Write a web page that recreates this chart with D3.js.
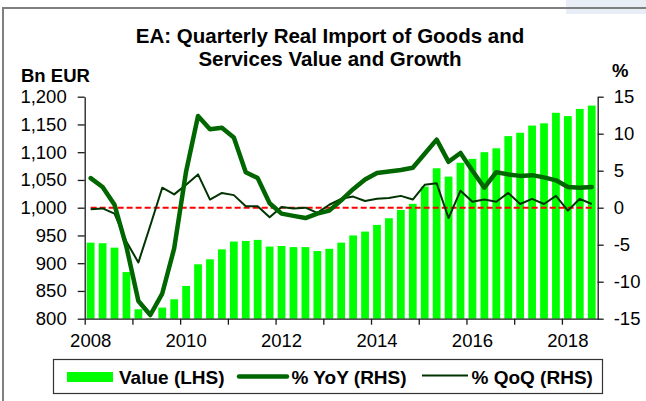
<!DOCTYPE html>
<html>
<head>
<meta charset="utf-8">
<script src="https://cdn.jsdelivr.net/npm/d3@7"></script>
<style>
  body { margin: 0; background: #fff; }
  svg text { font-family: "Liberation Sans", Arial, sans-serif; fill: #000; }
</style>
</head>
<body>
<script>
  let width = 646;
  let height = 401;

  // 2008Q1 .. 2018Q3
  const quarters = [
    "2008Q1","2008Q2","2008Q3","2008Q4","2009Q1","2009Q2","2009Q3","2009Q4",
    "2010Q1","2010Q2","2010Q3","2010Q4","2011Q1","2011Q2","2011Q3","2011Q4",
    "2012Q1","2012Q2","2012Q3","2012Q4","2013Q1","2013Q2","2013Q3","2013Q4",
    "2014Q1","2014Q2","2014Q3","2014Q4","2015Q1","2015Q2","2015Q3","2015Q4",
    "2016Q1","2016Q2","2016Q3","2016Q4","2017Q1","2017Q2","2017Q3","2017Q4",
    "2018Q1","2018Q2","2018Q3"
  ];
  const value = [937,936,928,884,817,801,820,835,859,898,907,925,939,940,942,930,
    931,929,929,922,926,937,950,957,969,981,996,1007,1038,1071,1056,1081,
    1088,1100,1107,1129,1135,1148,1152,1171,1165,1178,1184];
  const yoy = [4.0,2.8,0.4,-5.3,-12.6,-14.5,-11.6,-5.5,4.9,12.4,10.6,10.8,9.5,4.8,4.0,0.6,
    -0.8,-1.1,-1.4,-0.8,-0.4,1.0,2.5,3.8,4.7,4.9,5.1,5.4,7.3,9.2,6.2,7.4,
    5.0,2.7,4.8,4.5,4.3,4.4,4.1,3.7,2.8,2.7,2.8];
  const qoq = [-0.2,-0.1,-0.8,-4.6,-7.4,-2.4,2.7,1.8,3.1,4.5,1.1,2.0,1.7,0.2,0.2,-1.3,
    0.1,-0.1,0.0,-0.7,0.4,1.2,1.5,0.9,1.2,1.3,1.6,1.1,3.1,3.3,-1.4,2.3,
    0.8,1.1,0.8,2.0,0.5,1.2,0.5,1.6,-0.4,1.2,0.5];
  const yearLabels = ["2008Q1","2010Q1","2012Q1","2014Q1","2016Q1","2018Q1"];
  const yearTicks = [0,4,8,12,16,20,24,28,32,36,40];
  const leftTicks = [800,850,900,950,1000,1050,1100,1150,1200];
  const rightTicks = [-15,-10,-5,0,5,10,15];

  let pLeft = 84.7, pRight = 597.7, pTop = 96.7, pBottom = 318.7;

  let x = d3.scaleBand(quarters, [pLeft, pRight]).paddingInner(0.35).paddingOuter(0.175);
  let xi = d3.scaleLinear([0, quarters.length], [pLeft, pRight]);
  let yL = d3.scaleLinear([800, 1200], [pBottom, pTop]);
  let yR = d3.scaleLinear([-15, 15], [pBottom, pTop]);
  let cx = q => x(q) + x.bandwidth()/2;

  let svg = d3.select("body").append("svg")
    .attr("width", width).attr("height", height);

  // frame
  svg.append("rect").attr("x", 566).attr("y", 0).attr("width", 80).attr("height", 14).attr("fill", "#e9eef6");
  svg.append("path").attr("d", "M3,401V8H646").attr("fill", "none").attr("stroke", "#7f7f7f").attr("stroke-width", 2);

  // title
  svg.append("text").attr("x", 330).attr("y", 43).attr("text-anchor", "middle")
    .style("font-size", "20.5px").style("font-weight", "bold")
    .text("EA: Quarterly Real Import of Goods and");
  svg.append("text").attr("x", 330).attr("y", 66).attr("text-anchor", "middle")
    .style("font-size", "20.5px").style("font-weight", "bold")
    .text("Services Value and Growth");
  svg.append("text").attr("x", 21).attr("y", 82)
    .style("font-size", "18.5px").style("font-weight", "bold").text("Bn EUR");
  svg.append("text").attr("x", 612).attr("y", 77)
    .style("font-size", "18.5px").style("font-weight", "bold").text("%");

  // bars
  svg.append("g").selectAll("rect")
    .data(quarters)
    .enter()
    .append("rect")
    .attr("fill", "#00ff00")
    .attr("x", d => x(d))
    .attr("width", x.bandwidth())
    .attr("y", (d,i) => yL(value[i]))
    .attr("height", (d,i) => pBottom - yL(value[i]));

  // zero line
  svg.append("line")
    .attr("x1", cx(quarters[0])).attr("x2", cx(quarters[quarters.length-1]))
    .attr("y1", yR(0)).attr("y2", yR(0))
    .attr("stroke", "#ff0000").attr("stroke-width", 2).attr("stroke-dasharray", "6,3");

  let line = d3.line().x((d,i) => cx(quarters[i])).y(d => yR(d));
  svg.append("path").attr("d", line(qoq)).attr("fill", "none")
    .attr("stroke", "#003300").attr("stroke-width", 2).attr("stroke-linejoin", "round");
  svg.append("path").attr("d", line(yoy)).attr("fill", "none")
    .attr("stroke", "#006600").attr("stroke-width", 4.5)
    .attr("stroke-linejoin", "round").attr("stroke-linecap", "round");

  // axes
  let gl = svg.append("g").attr("transform", "translate(" + pLeft + ",0)")
    .call(d3.axisLeft(yL).tickValues(leftTicks).tickFormat(d3.format(",")).tickSize(7).tickPadding(11).tickSizeOuter(0));
  let gr = svg.append("g").attr("transform", "translate(" + pRight + ",0)")
    .call(d3.axisRight(yR).tickValues(rightTicks).tickFormat(d => String(d)).tickSize(6).tickPadding(10).tickSizeOuter(0));
  let gb = svg.append("g").attr("transform", "translate(0," + pBottom + ")")
    .call(d3.axisBottom(xi).tickValues(yearTicks).tickFormat("").tickSize(6).tickSizeOuter(0));
  let gx = svg.append("g").attr("transform", "translate(0," + pBottom + ")")
    .call(d3.axisBottom(x).tickValues(yearLabels).tickFormat(d => d.slice(0,4)).tickSize(0).tickPadding(15.5));
  gx.select(".domain").remove();
  [gl, gr, gb].forEach(g => {
    g.selectAll("line,path").attr("stroke", "#1a1a1a").attr("stroke-width", 1.3);
  });
  svg.selectAll(".tick text").style("font-size", "18.5px").attr("font-family", null);

  // legend
  let lg = svg.append("g");
  lg.append("rect").attr("x", 53.5).attr("y", 359.5).attr("width", 549).attr("height", 34)
    .attr("fill", "#fff").attr("stroke", "#333").attr("stroke-width", 1.2);
  lg.append("rect").attr("x", 67).attr("y", 372).attr("width", 46).attr("height", 10).attr("fill", "#00ff00");
  lg.append("line").attr("x1", 239).attr("x2", 287).attr("y1", 376.5).attr("y2", 376.5)
    .attr("stroke", "#006600").attr("stroke-width", 4.5).attr("stroke-linecap", "round");
  lg.append("line").attr("x1", 422).attr("x2", 468).attr("y1", 375.5).attr("y2", 375.5)
    .attr("stroke", "#003300").attr("stroke-width", 2);
  [["Value (LHS)", 119], ["% YoY (RHS)", 291.5], ["% QoQ (RHS)", 471.5]].forEach(t => {
    lg.append("text").attr("x", t[1]).attr("y", 383.5)
      .style("font-size", "19px").style("font-weight", "bold").text(t[0]);
  });
</script>
</body>
</html>
